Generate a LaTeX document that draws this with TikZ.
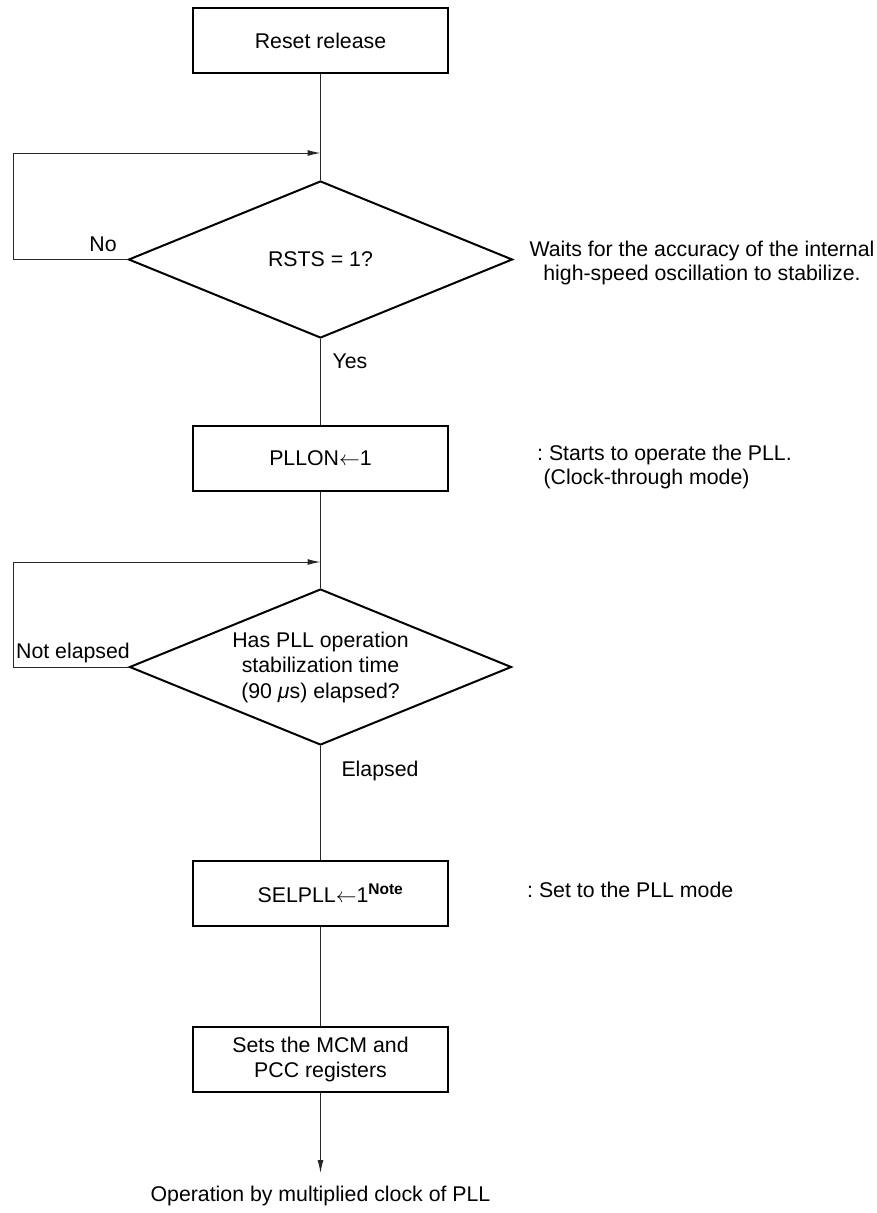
\documentclass[tikz,border=0pt]{standalone}
\usepackage{fontspec}
\setmainfont{Liberation Sans}
\usetikzlibrary{shapes.geometric,arrows.meta}
\frenchspacing
\begin{document}
\begin{tikzpicture}[x=1pt,y=-1pt,
  font=\fontsize{21.3}{24.5}\selectfont,
  procbox/.style={draw,line width=2pt,minimum width=255pt,minimum height=65pt,inner sep=0pt,align=center},
  decbox/.style={draw,diamond,aspect=2.45,line width=2pt,inner sep=0pt,align=center},
  conn/.style={line width=1pt,draw=black!85},
  arr/.style={conn,-{Latex[length=13pt,width=6pt]}},
  lbl/.style={inner sep=0pt}]
\useasboundingbox (0,0) rectangle (877,1213);
\node[procbox] (reset) at (320.5,40.5) {Reset release};
\node[decbox,minimum width=384pt,minimum height=157pt] (d1) at (320.5,259.5) {RSTS = 1?};
\node[procbox] (pllon) at (320.5,458.5) {PLLON$\leftarrow$1};
\node[decbox,minimum width=382pt,minimum height=156pt] (d2) at (320.5,667) {Has PLL operation\\[1pt]stabilization time\\[1pt](90 \textit{μ}s) elapsed?};
\node[procbox] (selpll) at (320.5,893) {\hspace{20pt}SELPLL$\leftarrow$1\textsuperscript{\fontsize{15.5}{18}\selectfont\bfseries Note}};
\node[procbox] (mcm) at (320.5,1059.5) {Sets the MCM and\\PCC registers};
\coordinate (endp) at (320.5,1173);
\coordinate (l1a) at (13,259.5);
\coordinate (l1b) at (13,153);
\coordinate (l1c) at (320.5,153);
\coordinate (l2a) at (13,667);
\coordinate (l2b) at (13,562);
\coordinate (l2c) at (320.5,562);

\draw[conn] (reset.south) -- (d1.north);
\draw[conn] (d1.south) -- (pllon.north);
\draw[conn] (pllon.south) -- (d2.north);
\draw[conn] (d2.south) -- (selpll.north);
\draw[conn] (selpll.south) -- (mcm.north);
\draw[arr] (mcm.south) -- (endp);
\draw[arr] (d1.west) -- (l1a) -- (l1b) -- (l1c);
\draw[arr] (d2.west) -- (l2a) -- (l2b) -- (l2c);

\node[lbl] (no) at (103,244) {No};
\node[lbl] (yes) at (350,361) {Yes};
\node[lbl] (notel) at (73,653) {Not elapsed};
\node[lbl] (elap) at (380,771) {Elapsed};
\node[lbl,align=center] (wait) at (702,263) {Waits for the accuracy of the internal\\high-speed oscillation to stabilize.};
\node[lbl,align=left,anchor=west] (starts) at (537,467) {: Starts to operate the PLL.\\\hspace{0.3em}(Clock-through mode)};
\node[lbl,anchor=west] (setpll) at (527,890) {: Set to the PLL mode};
\node[lbl] (oper) at (320.5,1196) {Operation by multiplied clock of PLL};
\end{tikzpicture}
\end{document}
